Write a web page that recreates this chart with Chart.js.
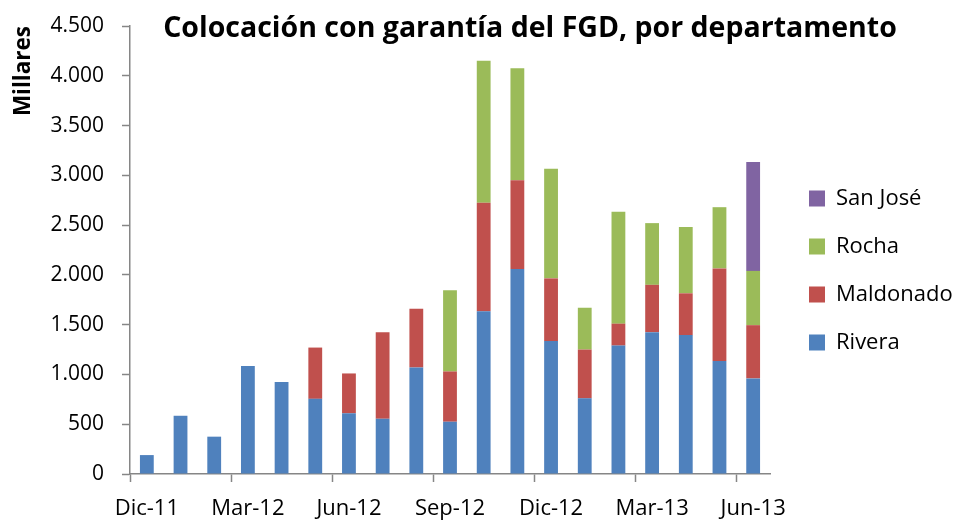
<!DOCTYPE html>
<html><head><meta charset="utf-8">
<script src="https://cdn.jsdelivr.net/npm/chart.js@4"></script>
<style>html,body{margin:0;padding:0;background:#fff}</style>
</head><body><canvas id="c" width="963" height="520"></canvas>
<script>
const categories = ['Dic-11','Ene-12','Feb-12','Mar-12','Abr-12','May-12','Jun-12','Jul-12','Ago-12','Sep-12','Oct-12','Nov-12','Dic-12','Ene-13','Feb-13','Mar-13','Abr-13','May-13','Jun-13'];
const rivera    = [190,585,375,1085,925,755,610,555,1070,525,1635,2060,1335,760,1290,1425,1395,1135,960];
const maldonado = [null,null,null,null,null,515,400,870,590,505,1090,890,630,490,220,475,420,930,535];
const rocha     = [null,null,null,null,null,null,null,null,null,815,1425,1125,1100,420,1125,620,665,615,545];
const sanJose   = [null,null,null,null,null,null,null,null,null,null,null,null,null,null,null,null,null,null,1095];
const yTicks = [0,500,1000,1500,2000,2500,3000,3500,4000,4500];
const TITLE = 'Colocación con garantía del FGD, por departamento';
const FONT = "'Open Sans', sans-serif";
const AXIS = '#868686';

const titlePlugin = {
  id: 'customTitle',
  afterDraw(chart) {
    const ctx = chart.ctx;
    ctx.save();
    ctx.font = 'bold 28.5px ' + FONT;
    ctx.fillStyle = '#000';
    ctx.textAlign = 'center';
    ctx.textBaseline = 'alphabetic';
    ctx.fillText(TITLE, 530, 37);
    ctx.restore();
  }
};
const legendShift = {
  id: 'legendShift',
  afterInit(chart) {
    const lg = chart.legend;
    const of = lg.fit.bind(lg);
    lg.fit = function () { of(); this.width = 193; };
    const od = lg.draw.bind(lg);
    lg.draw = function (...a) { const c = this.ctx; c.save(); c.translate(13, -2.5); od(...a); c.restore(); };
  }
};

new Chart(document.getElementById('c'), {
  type: 'bar',
  data: {
    labels: categories,
    datasets: [
      { label: 'Rivera', data: rivera, backgroundColor: '#4F81BD', borderWidth: 0 },
      { label: 'Maldonado', data: maldonado, backgroundColor: '#C0504D', borderWidth: 0 },
      { label: 'Rocha', data: rocha, backgroundColor: '#9BBB59', borderWidth: 0 },
      { label: 'San José', data: sanJose, backgroundColor: '#8064A2', borderWidth: 0 }
    ]
  },
  options: {
    responsive: false,
    animation: false,
    datasets: { bar: { categoryPercentage: 1, barPercentage: 0.41 } },
    layout: { padding: { left: 10, top: 26, right: 0, bottom: 0 } },
    plugins: {
      legend: {
        position: 'right', reverse: true,
        labels: { font: { family: FONT, size: 22 }, color: '#000', boxWidth: 16, boxHeight: 16, padding: 26 }
      },
      tooltip: { enabled: false },
      title: { display: false }
    },
    scales: {
      x: {
        stacked: true, offset: true,
        grid: { offset: true, drawOnChartArea: false, tickLength: 8, tickWidth: 1.5,
          tickColor: (c) => (c.index % 3 === 0 ? AXIS : 'rgba(0,0,0,0)') },
        border: { color: AXIS, width: 1.5 },
        ticks: { autoSkip: false, maxRotation: 0, minRotation: 0, padding: 14, color: '#000',
          font: { family: FONT, size: 22 },
          callback: (v, i) => (i % 3 === 0 ? categories[i] : '') },
        afterFit(s) { s.height = 46; }
      },
      y: {
        stacked: true, min: 0, max: 4500,
        afterBuildTicks(s) { s.ticks = yTicks.map(v => ({ value: v })); },
        grid: { drawOnChartArea: false, tickLength: 8, tickWidth: 1.5, tickColor: AXIS },
        border: { color: AXIS, width: 1.5 },
        ticks: { padding: 18, color: '#000', font: { family: FONT, size: 21, lineHeight: 0.75 },
          callback: (v) => v.toLocaleString('de-DE') },
        title: { display: true, text: 'Millares', align: 'end', color: '#000',
          font: { family: FONT, size: 22.5, weight: 'bold' }, padding: { top: 0, bottom: 0 } },
        afterFit(s) { s.width = 120; }
      }
    }
  },
  plugins: [titlePlugin, legendShift]
});
</script>
</body></html>
